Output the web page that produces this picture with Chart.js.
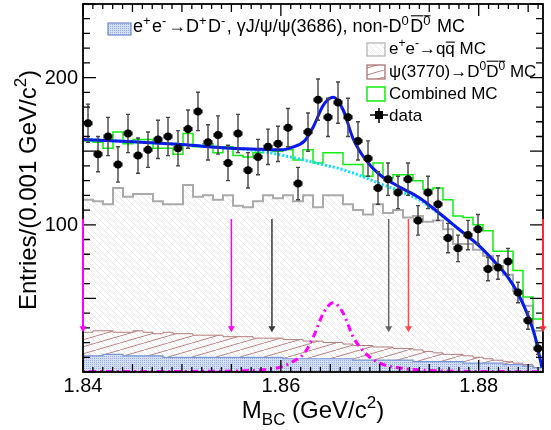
<!DOCTYPE html>
<html>
<head>
<meta charset="utf-8">
<script src="https://cdn.jsdelivr.net/npm/chart.js@4.4.1/dist/chart.umd.min.js"></script>
<style>
  html, body { margin: 0; padding: 0; background: #fff; }
  canvas { display: block; }
</style>
</head>
<body>
<canvas id="mbc" width="551" height="430"></canvas>
<script>
// M_BC spectrum: 46 bins between 1.84 and 1.8865 GeV/c2
var xMin = 1.84, xMax = 1.8865;

var dataCounts = [169,148,160,141,162,147,151,158,160,152,165,177,156,161,142,162,137,146,153,155,166,128,163,185,173,183,173,157,145,125,131,122,131,103,122,114,91,84,93,97,70,71,75,54,35,16];
var dataErrors = [13,12,13,12,13,12,12,13,13,12,13,13,12,13,12,13,12,12,12,12,13,11,13,14,13,14,13,13,12,11,11,11,11,10,11,11,10,9,10,10,8,8,9,7,6,4];

var combinedMC = [157,156,152,163,155,158,158,152,152,148,162,153,155,149,153,147,146,149,151,150,151,144,151,142,149,149,141,141,133,142,132,134,134,130,124,125,117,106,105,100,96,82,82,69,51,36];
var qqMC = [117,116,114,125,119,121,121,116,114,114,127,119,120,117,120,113,112,116,120,118,120,116,120,112,120,120,114,110,107,114,108,110,105,106,102,103,97,87,87,83,79,72,66,55,45,28];
var d0d0MC = [27,28,28,27,27,28,27,26,27,26,26,25,25,25,24,24,24,23,23,23,22,22,21,21,20,20,19,18,18,17,17,16,16,15,14,13,12,12,11,10,9,8,7,6,5,3];
var dpdmMC = [11,11,12,12,11,11,11,11,10,10,10,10,10,10,10,10,10,10,10,10,9,9,9,9,9,9,9,8,8,8,8,8,8,7,7,7,7,7,6,6,6,6,5,5,4,3];

// fit curves
var fitMass = [1.840,1.845,1.850,1.855,1.858,1.860,1.8612,1.8624,1.8633,1.8643,1.8653,1.8663,1.8673,1.8685,1.870,1.872,1.874,1.876,1.878,1.880,1.882,1.883,1.884,1.885,1.8857,1.8861,1.8864];
var fitTotal = [158,156.5,154.5,152,151.4,151,152.8,157,166.8,181.3,186.6,178,158.6,144.8,134,125.7,118.4,108,97,86,72,64,53,38,24,12,3];
var bkgMass = [1.840,1.845,1.850,1.855,1.858,1.860,1.862,1.864,1.866,1.868,1.870,1.872,1.874,1.876,1.878,1.880,1.882,1.883,1.884,1.885,1.8857,1.8861,1.8864];
var bkgFit = [158,156.5,154.5,152,150,147.5,144.5,141.3,138,133.5,128,123,117,107.5,97,86,72,64,53,38,24,12,3];
var sigMass = [1.840,1.850,1.856,1.858,1.860,1.8612,1.8624,1.8633,1.8643,1.8653,1.8663,1.8673,1.8685,1.870,1.872,1.874,1.878,1.8865];
var sigShape = [0.3,0.4,0.8,1.4,3.4,7,13,24,40,47,40,24,13,6,2.7,1.4,0.5,0.2];

// selection arrows
var arrowMass = [1.84, 1.855, 1.8591, 1.8709, 1.8729, 1.8865];
var arrowColors = ['#ff00ff', '#ff00ff', '#3a3a3a', '#666666', '#ff4a4a', '#ff2a2a'];
var arrowTop = 104, arrowTip = 27;

var xTickLabels = ['1.84', '1.86', '1.88'];
var yTickLabels = ['100', '200'];

var FONT = '"Liberation Sans", Arial, Helvetica, sans-serif';

var nBins = dataCounts.length;
var edges = [];
for (var k = 0; k <= nBins; k++) edges.push(xMin + k * (xMax - xMin) / nBins);

function histPoints(vals) {
  var pts = vals.map(function (v, i) { return { x: edges[i], y: v }; });
  pts.push({ x: edges[nBins], y: vals[nBins - 1] });
  return pts;
}
function curvePoints(xs, ys) {
  return xs.map(function (x, i) { return { x: x, y: ys[i] }; });
}

var canvas = document.getElementById('mbc');
var ctx = canvas.getContext('2d');

function makePattern(w, h, draw) {
  var c = document.createElement('canvas');
  c.width = w; c.height = h;
  draw(c.getContext('2d'));
  return ctx.createPattern(c, 'repeat');
}
var qqPattern = makePattern(6, 6, function (g) {
  g.strokeStyle = 'rgba(175,175,175,0.45)';
  g.lineWidth = 0.7;
  g.beginPath();
  g.moveTo(0, 0); g.lineTo(6, 6);
  g.moveTo(-1, 5); g.lineTo(1, 7);
  g.moveTo(5, -1); g.lineTo(7, 1);
  g.stroke();
});
var d0Pattern = makePattern(24, 7, function (g) {
  g.strokeStyle = 'rgb(170,100,100)';
  g.lineWidth = 0.8;
  g.beginPath();
  g.moveTo(0, 7); g.lineTo(24, 0);
  g.stroke();
});
var dpPattern = makePattern(2, 2, function (g) {
  g.fillStyle = 'rgb(212,223,245)';
  g.fillRect(0, 0, 2, 2);
  g.fillStyle = 'rgb(150,174,224)';
  g.fillRect(0, 0, 1, 1);
});

function drawRich(c, x, y, parts, size, align, supGap) {
  var segs = [], w = 0;
  supGap = supGap || 0;
  parts.forEach(function (p) {
    var st = p[1] || '';
    var fs = (st === 'sup' || st === 'sub') ? Math.round(size * 0.7) : size;
    c.font = fs + 'px ' + FONT;
    var tw = c.measureText(p[0]).width;
    segs.push({ t: p[0], st: st, fs: fs, x: w, w: tw, bar: p[2] || 0 });
    w += tw + (st === 'sup' ? supGap : 0);
  });
  var x0 = align === 'center' ? x - w / 2 : x;
  c.textAlign = 'left';
  c.textBaseline = 'alphabetic';
  segs.forEach(function (s) {
    c.font = s.fs + 'px ' + FONT;
    var dy = 0;
    if (s.st === 'sup') dy = -size * 0.4;
    if (s.st === 'sub') dy = size * 0.3;
    c.fillText(s.t, x0 + s.x, y + dy);
    if (s.bar) {
      c.beginPath();
      c.moveTo(x0 + s.x + 0.5, y - s.bar * size);
      c.lineTo(x0 + s.x + s.w, y - s.bar * size);
      c.stroke();
    }
  });
}

var DATA_IDX = 7;

var errorBarPlugin = {
  id: 'errorBars',
  beforeDatasetDraw: function (chart, args) {
    if (args.index !== DATA_IDX) return;
    var c = chart.ctx, xs = chart.scales.x, ys = chart.scales.y, a = chart.chartArea;
    c.save();
    c.beginPath();
    c.rect(a.left, a.top, a.right - a.left, a.bottom - a.top);
    c.clip();
    c.strokeStyle = '#444444';
    c.lineWidth = 1.4;
    args.meta.data.forEach(function (pt, i) {
      var yt = ys.getPixelForValue(dataCounts[i] + dataErrors[i]);
      var yb = ys.getPixelForValue(dataCounts[i] - dataErrors[i]);
      var xl = xs.getPixelForValue(edges[i]) + 1;
      var xr = xs.getPixelForValue(edges[i + 1]) - 1;
      c.beginPath();
      c.moveTo(pt.x, yt); c.lineTo(pt.x, yb);
      c.moveTo(pt.x - 2, yt); c.lineTo(pt.x + 2, yt);
      c.moveTo(pt.x - 2, yb); c.lineTo(pt.x + 2, yb);
      c.moveTo(xl, pt.y); c.lineTo(xr, pt.y);
      c.moveTo(xl, pt.y - 2); c.lineTo(xl, pt.y + 2);
      c.moveTo(xr, pt.y - 2); c.lineTo(xr, pt.y + 2);
      c.stroke();
    });
    c.restore();
  }
};

var framePlugin = {
  id: 'rootFrame',
  afterDraw: function (chart) {
    var c = chart.ctx, xs = chart.scales.x, ys = chart.scales.y, a = chart.chartArea;
    c.save();
    c.strokeStyle = '#000';
    c.fillStyle = '#000';

    // frame
    c.lineWidth = 1.8;
    c.strokeRect(a.left, a.top, a.right - a.left, a.bottom - a.top);

    // y ticks, both sides, pointing in
    c.lineWidth = 1.3;
    c.beginPath();
    for (var v = 0; v <= 250; v += 10) {
      var py = ys.getPixelForValue(v);
      var len = (v % 50 === 0) ? 13 : 7;
      c.moveTo(a.left, py); c.lineTo(a.left + len, py);
      c.moveTo(a.right, py); c.lineTo(a.right - len, py);
    }
    // x ticks, bottom and top
    for (var k = 0; k <= 46; k++) {
      var m = 1.84 + k * 0.001;
      if (m > xMax + 1e-9) break;
      var px = xs.getPixelForValue(m);
      var l = (k % 20 === 0) ? 12 : ((k % 5 === 0) ? 8 : 5);
      c.moveTo(px, a.bottom); c.lineTo(px, a.bottom - l);
      c.moveTo(px, a.top); c.lineTo(px, a.top + l);
    }
    c.stroke();

    // arrows
    arrowMass.forEach(function (m, i) {
      var px = xs.getPixelForValue(m);
      var y0 = ys.getPixelForValue(arrowTop);
      var y1 = ys.getPixelForValue(arrowTip);
      c.strokeStyle = arrowColors[i];
      c.fillStyle = arrowColors[i];
      c.lineWidth = (i === 0 || i === 5) ? 2 : 1.5;
      c.beginPath();
      c.moveTo(px, y0); c.lineTo(px, y1 - 4);
      c.stroke();
      c.beginPath();
      c.moveTo(px - 3.5, y1 - 6); c.lineTo(px + 3.5, y1 - 6); c.lineTo(px, y1);
      c.closePath();
      c.fill();
    });

    // tick labels
    c.fillStyle = '#000';
    c.strokeStyle = '#000';
    c.font = '20px ' + FONT;
    c.textAlign = 'right';
    c.textBaseline = 'middle';
    yTickLabels.forEach(function (t) {
      c.fillText(t, a.left - 5, ys.getPixelForValue(parseFloat(t)) + 1);
    });
    c.textAlign = 'center';
    c.textBaseline = 'alphabetic';
    xTickLabels.forEach(function (t) {
      c.fillText(t, xs.getPixelForValue(parseFloat(t)), a.bottom + 20);
    });

    // axis titles
    drawRich(c, (a.left + a.right) / 2, 418,
      [['M'], ['BC', 'sub'], [' (GeV/c'], ['2', 'sup'], [')']], 24, 'center');
    c.save();
    c.translate(36, (a.top + a.bottom) / 2 + 2);
    c.rotate(-Math.PI / 2);
    drawRich(c, 0, 0, [['Entries/(0.001 GeV/c'], ['2', 'sup'], [')']], 24, 'center');
    c.restore();

    // legend
    c.lineWidth = 1.2;
    c.fillStyle = dpPattern;
    c.fillRect(108, 23, 23, 12);
    c.strokeStyle = 'rgb(110,140,210)';
    c.strokeRect(108, 23, 23, 12);

    c.fillStyle = qqPattern;
    c.fillRect(367, 43, 18, 13);
    c.strokeStyle = '#b0b0b0';
    c.strokeRect(367, 43, 18, 13);

    c.fillStyle = '#fff';
    c.fillRect(367, 65, 18, 14);
    c.fillStyle = d0Pattern;
    c.fillRect(367, 65, 18, 14);
    c.strokeStyle = 'rgb(170,100,100)';
    c.strokeRect(367, 65, 18, 14);

    c.lineWidth = 1.5;
    c.strokeStyle = '#11ee11';
    c.strokeRect(367, 87, 18, 14);

    c.strokeStyle = '#000';
    c.fillStyle = '#000';
    c.beginPath();
    c.moveTo(370, 115); c.lineTo(388, 115);
    c.moveTo(379, 108); c.lineTo(379, 123);
    c.stroke();
    c.fillRect(375, 111, 8, 8);

    c.lineWidth = 1.1;
    drawRich(c, 133, 32, [['e'], ['+', 'sup'], ['e'], ['-', 'sup'], ['\u2192D'], ['+', 'sup'], ['D'], ['-', 'sup'],
      [', \u03b3J/\u03c8/\u03c8(3686), non-D'], ['0', 'sup'], ['D', '', 0.9], ['0', 'sup', 0.9], [' MC']], 18, 'left', 1.5);
    drawRich(c, 389, 54, [['e'], ['+', 'sup'], ['e'], ['-', 'sup'], ['\u2192q'], ['q', '', 0.7], [' MC']], 17);
    drawRich(c, 389, 76.5, [['\u03c8(3770)\u2192D'], ['0', 'sup'], ['D', '', 0.9], ['0', 'sup', 0.9], [' MC']], 17);
    drawRich(c, 389, 98.5, [['Combined MC']], 17);
    drawRich(c, 389, 121, [['data']], 17);

    c.restore();
  }
};

var centers = dataCounts.map(function (v, i) { return { x: (edges[i] + edges[i + 1]) / 2, y: v }; });

new Chart(canvas, {
  type: 'line',
  data: {
    datasets: [{
      label: 'qq MC',
      data: histPoints(qqMC),
      stepped: true,
      fill: 'origin',
      backgroundColor: qqPattern,
      borderColor: '#aaaaaa',
      borderWidth: 2,
      pointRadius: 0,
      clip: 0,
      order: 10
    }, {
      label: 'D0D0 MC',
      data: histPoints(d0d0MC),
      stepped: true,
      fill: 'origin',
      backgroundColor: d0Pattern,
      borderColor: 'rgb(180,125,125)',
      borderWidth: 1,
      pointRadius: 0,
      clip: 0,
      order: 9
    }, {
      label: 'D+D- MC',
      data: histPoints(dpdmMC),
      stepped: true,
      fill: 'origin',
      backgroundColor: dpPattern,
      borderColor: 'rgb(120,150,215)',
      borderWidth: 1.2,
      pointRadius: 0,
      clip: 0,
      order: 8
    }, {
      label: 'Combined MC',
      data: histPoints(combinedMC),
      stepped: true,
      fill: false,
      borderColor: '#11ee11',
      borderWidth: 1.5,
      pointRadius: 0,
      clip: 0,
      order: 7
    }, {
      label: 'signal',
      data: curvePoints(sigMass, sigShape),
      fill: false,
      borderColor: '#ff00ff',
      borderWidth: 3,
      borderDash: [2, 4, 7, 4],
      cubicInterpolationMode: 'monotone',
      pointRadius: 0,
      clip: 0,
      order: 6
    }, {
      label: 'background',
      data: curvePoints(bkgMass, bkgFit),
      fill: false,
      borderColor: '#00e0ff',
      borderWidth: 3,
      borderDash: [2, 2],
      cubicInterpolationMode: 'monotone',
      pointRadius: 0,
      clip: 0,
      order: 5
    }, {
      label: 'fit',
      data: curvePoints(fitMass, fitTotal),
      fill: false,
      borderColor: '#0a18f0',
      borderWidth: 3,
      cubicInterpolationMode: 'monotone',
      pointRadius: 0,
      clip: 0,
      order: 4
    }, {
      label: 'data',
      data: centers,
      showLine: false,
      pointRadius: 4,
      pointBackgroundColor: '#000',
      pointBorderColor: '#000',
      pointBorderWidth: 0,
      clip: 0,
      order: 1
    }]
  },
  options: {
    responsive: false,
    animation: false,
    layout: { padding: { left: 83, right: 8, top: 3, bottom: 58 } },
    plugins: {
      legend: { display: false },
      tooltip: { enabled: false }
    },
    scales: {
      x: { type: 'linear', min: xMin, max: xMax, display: false },
      y: { type: 'linear', min: 0, max: 250, display: false }
    }
  },
  plugins: [errorBarPlugin, framePlugin]
});
</script>
</body>
</html>
